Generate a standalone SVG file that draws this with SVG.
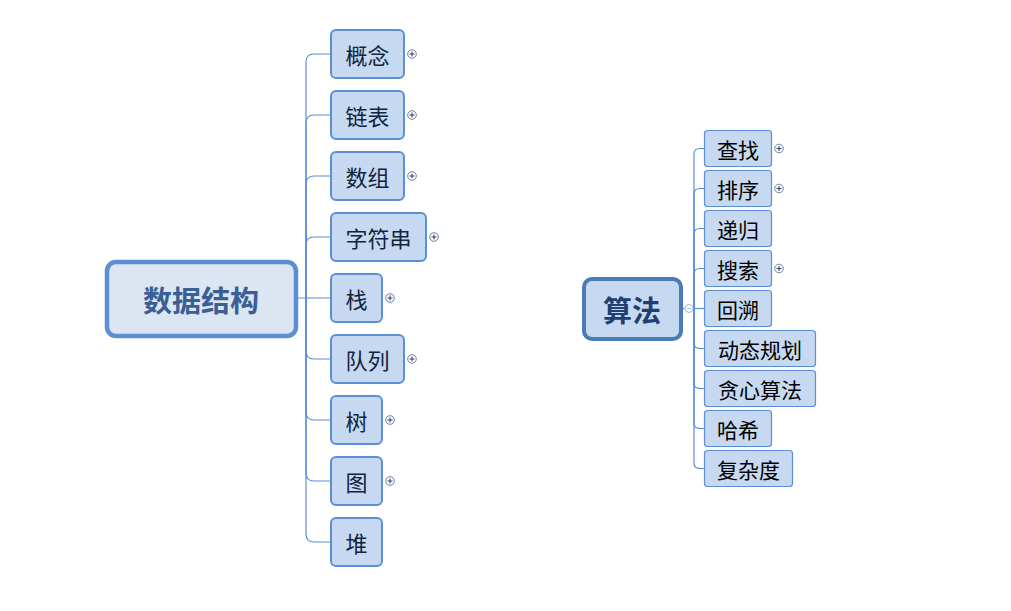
<svg xmlns="http://www.w3.org/2000/svg" width="1011" height="611" viewBox="0 0 1011 611">
<style>
text{font-family:"Noto Sans CJK SC","Noto Sans",sans-serif;text-anchor:middle;dominant-baseline:central}
.l{fill:none;stroke:#5b8fd4;stroke-width:1.2}
.c1{fill:#c6d9f0;stroke:#5b8fd4;stroke-width:2}
.c2{fill:#c6d9f0;stroke:#5b8fd4;stroke-width:1.2}
.t1{font-size:22px;fill:#10243e}
.t2{font-size:21px;fill:#000}
.p{fill:#fff;stroke:#6b7fa8;stroke-width:1}
.pl{stroke:#2a3a60;stroke-width:1}
</style>
<defs>
<g id="plus"><circle class="p" cx="0" cy="0" r="4.3"/><path class="pl" d="M-2.5,0H2.5M0,-2.5V2.5"/></g>
</defs>
<rect width="1011" height="611" fill="#fff"/>
<g id="connectors">
<path class="l" d="M296,298H331"/>
<path class="l" d="M306,298V62Q306,54 314,54H331"/>
<path class="l" d="M306,298V123Q306,115 314,115H331"/>
<path class="l" d="M306,298V184Q306,176 314,176H331"/>
<path class="l" d="M306,298V245Q306,237 314,237H331"/>
<path class="l" d="M306,298V351Q306,359 314,359H331"/>
<path class="l" d="M306,298V412Q306,420 314,420H331"/>
<path class="l" d="M306,298V473Q306,481 314,481H331"/>
<path class="l" d="M306,298V534Q306,542 314,542H331"/>
<path class="l" d="M682,308.5H704"/>
<path class="l" d="M694,308.5V154Q694,148.5 700,148.5H704"/>
<path class="l" d="M694,308.5V194Q694,188.5 700,188.5H704"/>
<path class="l" d="M694,308.5V234Q694,228.5 700,228.5H704"/>
<path class="l" d="M694,308.5V274Q694,268.5 700,268.5H704"/>
<path class="l" d="M694,308.5V343Q694,348.5 700,348.5H704"/>
<path class="l" d="M694,308.5V383Q694,388.5 700,388.5H704"/>
<path class="l" d="M694,308.5V423Q694,428.5 700,428.5H704"/>
<path class="l" d="M694,308.5V463Q694,468.5 700,468.5H704"/>
<circle cx="689" cy="308.5" r="4" fill="#fff" stroke="#aabbd6" stroke-width="1"/>
<path d="M687,308.5H691" stroke="#aabbd6" stroke-width="1"/>
</g>
<g id="root-ds">
<rect x="107" y="262" width="189" height="74" rx="9" fill="#dce6f2" stroke="#5b8fd4" stroke-width="4.5"/>
<text x="201" y="299" font-size="29" font-weight="bold" fill="#3a5f94">数据结构</text>
</g>
<g id="n-gainian"><rect class="c1" x="331" y="30" width="73" height="48" rx="5"/><text class="t1" x="367.5" y="54">概念</text><use href="#plus" x="412" y="54"/></g>
<g id="n-lianbiao"><rect class="c1" x="331" y="91" width="73" height="48" rx="5"/><text class="t1" x="367.5" y="115">链表</text><use href="#plus" x="412" y="115"/></g>
<g id="n-shuzu"><rect class="c1" x="331" y="152" width="73" height="48" rx="5"/><text class="t1" x="367.5" y="176">数组</text><use href="#plus" x="412" y="176"/></g>
<g id="n-zifuchuan"><rect class="c1" x="331" y="213" width="95" height="48" rx="5"/><text class="t1" x="378.5" y="237">字符串</text><use href="#plus" x="434" y="237"/></g>
<g id="n-zhan"><rect class="c1" x="331" y="274" width="51" height="48" rx="5"/><text class="t1" x="356.5" y="298">栈</text><use href="#plus" x="390" y="298"/></g>
<g id="n-duilie"><rect class="c1" x="331" y="335" width="73" height="48" rx="5"/><text class="t1" x="367.5" y="359">队列</text><use href="#plus" x="412" y="359"/></g>
<g id="n-shu"><rect class="c1" x="331" y="396" width="51" height="48" rx="5"/><text class="t1" x="356.5" y="420">树</text><use href="#plus" x="390" y="420"/></g>
<g id="n-tu"><rect class="c1" x="331" y="457" width="51" height="48" rx="5"/><text class="t1" x="356.5" y="481">图</text><use href="#plus" x="390" y="481"/></g>
<g id="n-dui"><rect class="c1" x="331" y="518" width="51" height="48" rx="5"/><text class="t1" x="356.5" y="542">堆</text></g>
<g id="root-algo">
<rect x="584" y="279" width="97" height="60" rx="8" fill="#c6d9f0" stroke="#4a7ab8" stroke-width="4"/>
<text x="632" y="309" font-size="29" font-weight="bold" fill="#1f3f72">算法</text>
</g>
<g id="n-chazhao"><rect class="c2" x="704.5" y="130.5" width="67" height="36" rx="3"/><text class="t2" x="738" y="148.5">查找</text><use href="#plus" x="779" y="148.5"/></g>
<g id="n-paixu"><rect class="c2" x="704.5" y="170.5" width="67" height="36" rx="3"/><text class="t2" x="738" y="188.5">排序</text><use href="#plus" x="779" y="188.5"/></g>
<g id="n-digui"><rect class="c2" x="704.5" y="210.5" width="67" height="36" rx="3"/><text class="t2" x="738" y="228.5">递归</text></g>
<g id="n-sousuo"><rect class="c2" x="704.5" y="250.5" width="67" height="36" rx="3"/><text class="t2" x="738" y="268.5">搜索</text><use href="#plus" x="779" y="268.5"/></g>
<g id="n-huisu"><rect class="c2" x="704.5" y="290.5" width="67" height="36" rx="3"/><text class="t2" x="738" y="308.5">回溯</text></g>
<g id="n-dongtai"><rect class="c2" x="704.5" y="330.5" width="111" height="36" rx="3"/><text class="t2" x="760" y="348.5">动态规划</text></g>
<g id="n-tanxin"><rect class="c2" x="704.5" y="370.5" width="111" height="36" rx="3"/><text class="t2" x="760" y="388.5">贪心算法</text></g>
<g id="n-haxi"><rect class="c2" x="704.5" y="410.5" width="67" height="36" rx="3"/><text class="t2" x="738" y="428.5">哈希</text></g>
<g id="n-fuzadu"><rect class="c2" x="704.5" y="450.5" width="88" height="36" rx="3"/><text class="t2" x="748.5" y="468.5">复杂度</text></g>
</svg>
